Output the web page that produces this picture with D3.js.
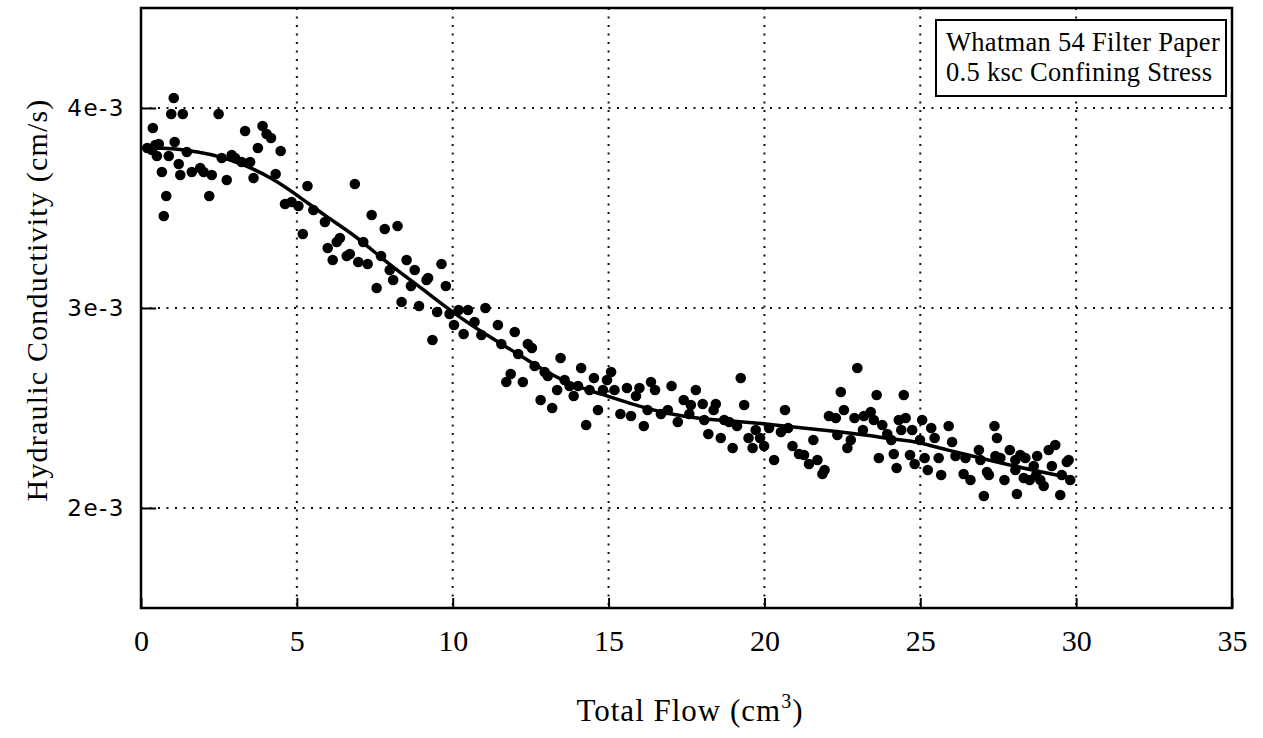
<!DOCTYPE html>
<html>
<head>
<meta charset="utf-8">
<script src="https://cdn.jsdelivr.net/npm/d3@7"></script>
<style>
  body { margin: 0; background: #fff; }
  svg { display: block; }
</style>
</head>
<body>
<div id="chart"></div>
<script>
// measured total flow (cm^3) and hydraulic conductivity (x 1e-3 cm/s)
const flow = [
  0.20, 1.05, 0.97, 1.34, 2.49, 0.38, 1.08, 3.34, 3.90, 4.03, 4.17, 3.75, 4.48, 0.46, 0.57, 0.35, 0.51, 0.89, 1.47, 1.21,
  0.67, 1.26, 1.63, 1.90, 2.01, 2.27, 2.59, 2.91, 3.02, 3.23, 3.50, 2.75, 3.61, 4.32, 0.81, 2.19, 0.73, 5.34, 4.62, 4.83,
  5.05, 5.53, 5.90, 5.19,
  6.86, 7.40, 7.82, 8.23, 6.38, 6.28, 5.99, 6.15, 6.60, 6.70, 6.97, 7.27, 7.13, 7.70, 7.98, 8.09, 7.56, 8.52, 8.78, 8.66,
  8.36, 8.92, 9.16, 9.21, 9.64, 9.78, 9.50, 9.90, 10.19, 10.49, 11.05, 10.04, 10.70, 10.35, 11.45, 11.99, 9.35, 10.92, 11.56, 12.10,
  12.41, 12.54, 12.63, 12.95, 13.05, 13.46, 11.86, 11.72, 12.25, 14.12, 13.59, 13.75, 14.02, 13.35, 12.82, 13.19, 13.88, 14.53, 14.39, 14.82,
  14.95, 15.08, 14.66, 14.28, 15.19, 15.59, 15.99, 15.88, 16.36, 16.49, 17.02, 17.80, 17.41, 17.64, 16.25, 15.38, 15.72, 16.13, 16.68, 16.90,
  17.22, 17.59,
  19.24, 18.44, 18.37, 18.02, 19.35, 18.07, 18.71, 18.87, 19.12, 18.20, 18.60, 18.98, 19.49, 19.62, 19.72, 19.86, 19.99, 20.15, 20.31, 20.53,
  20.76, 20.66, 20.90, 21.11, 21.27, 21.43, 21.70, 21.57, 21.86, 21.93, 22.07, 22.29, 22.55, 22.45, 22.34, 22.77, 22.66, 22.98, 22.89, 23.19,
  23.41, 23.16, 23.60, 23.51, 23.78, 23.94, 24.07, 24.31, 23.67, 24.15, 24.24,
  24.47, 24.53, 24.39, 24.74, 24.67, 24.82, 25.06, 25.35, 25.46, 25.91, 24.99, 25.14, 25.24, 25.67, 25.59, 26.02, 26.13, 26.45, 26.39, 26.61,
  26.88, 26.93, 27.20, 27.14, 27.04, 27.38, 27.46, 27.41, 27.57, 27.70, 27.87, 28.05, 28.05, 28.10, 28.21, 28.37, 28.32, 28.51, 28.64, 28.75,
  28.72, 28.85, 28.96, 29.12, 29.33, 29.22, 29.49, 29.54, 29.70, 29.76, 29.81
];
const conductivity = [
  3.80, 4.05, 3.97, 3.97, 3.97, 3.90, 3.83, 3.885, 3.91, 3.87, 3.85, 3.80, 3.785, 3.815, 3.82, 3.79, 3.76, 3.76, 3.78, 3.72,
  3.68, 3.665, 3.68, 3.70, 3.68, 3.665, 3.75, 3.765, 3.75, 3.73, 3.73, 3.64, 3.65, 3.67, 3.56, 3.56, 3.46, 3.61, 3.52, 3.53,
  3.51, 3.49, 3.43, 3.37,
  3.62, 3.465, 3.395, 3.41, 3.35, 3.33, 3.30, 3.24, 3.26, 3.27, 3.23, 3.22, 3.33, 3.26, 3.19, 3.14, 3.10, 3.24, 3.19, 3.11,
  3.03, 3.01, 3.14, 3.15, 3.22, 3.11, 2.98, 2.97, 2.99, 2.99, 3.00, 2.915, 2.93, 2.87, 2.915, 2.88, 2.84, 2.865, 2.82, 2.77,
  2.82, 2.80, 2.71, 2.68, 2.66, 2.75, 2.67, 2.63, 2.63, 2.70, 2.64, 2.61, 2.61, 2.59, 2.54, 2.50, 2.56, 2.65, 2.59, 2.59,
  2.64, 2.68, 2.49, 2.415, 2.59, 2.60, 2.60, 2.56, 2.63, 2.59, 2.61, 2.59, 2.54, 2.515, 2.49, 2.47, 2.46, 2.41, 2.47, 2.49,
  2.43, 2.47,
  2.65, 2.52, 2.49, 2.52, 2.515, 2.44, 2.44, 2.43, 2.41, 2.37, 2.35, 2.30, 2.35, 2.30, 2.39, 2.35, 2.31, 2.40, 2.24, 2.38,
  2.40, 2.49, 2.31, 2.27, 2.265, 2.22, 2.24, 2.34, 2.17, 2.19, 2.46, 2.45, 2.49, 2.58, 2.365, 2.34, 2.30, 2.70, 2.45, 2.46,
  2.48, 2.39, 2.565, 2.44, 2.415, 2.37, 2.34, 2.44, 2.25, 2.27, 2.20,
  2.565, 2.45, 2.39, 2.39, 2.265, 2.22, 2.44, 2.40, 2.35, 2.41, 2.34, 2.25, 2.19, 2.165, 2.25, 2.33, 2.26, 2.25, 2.17, 2.14,
  2.29, 2.24, 2.165, 2.18, 2.06, 2.41, 2.35, 2.26, 2.25, 2.14, 2.29, 2.19, 2.24, 2.07, 2.265, 2.25, 2.15, 2.14, 2.21, 2.26,
  2.165, 2.14, 2.11, 2.29, 2.315, 2.21, 2.065, 2.165, 2.23, 2.24, 2.14
];

// smoothed fit curve
const fitFlow = [0.2, 1.0, 1.85, 2.49, 3.34, 4.2, 5.05, 6.0, 6.86, 7.93, 9.0, 10.06, 11.13, 12.1, 12.63, 13.7, 14.76, 15.83,
  16.9, 17.96, 19.03, 20.1, 21.16, 22.23, 23.3, 24.26, 24.79, 25.86, 26.93, 27.99, 29.06, 29.86];
const fitK = [3.80, 3.80, 3.78, 3.76, 3.715, 3.65, 3.56, 3.45, 3.365, 3.22, 3.10, 2.97, 2.86, 2.77, 2.715, 2.62, 2.57, 2.515,
  2.47, 2.445, 2.435, 2.42, 2.40, 2.385, 2.365, 2.34, 2.335, 2.29, 2.25, 2.21, 2.175, 2.15];

const xTicks = [0, 5, 10, 15, 20, 25, 30, 35];
const yTicks = [2, 3, 4];
const legendLines = ["Whatman 54 Filter Paper", "0.5 ksc Confining Stress"];

const W = 1263, H = 738;
const margin = { top: 8, right: 31, bottom: 130, left: 141 };
const width = W - margin.left - margin.right,
    height = H - margin.top - margin.bottom;

const svg = d3.select("#chart").append("svg")
    .attr("width", W)
    .attr("height", H);

const g = svg.append("g")
    .attr("transform", `translate(${margin.left},${margin.top})`);

const x = d3.scaleLinear().domain([0, 35]).range([0, width]);
const y = d3.scaleLinear().domain([1.5, 4.5]).range([height, 0]);

// dotted grid
g.append("g")
    .selectAll("line")
    .data(xTicks.slice(1, -1))
    .join("line")
    .attr("x1", d => x(d)).attr("x2", d => x(d))
    .attr("y1", 0).attr("y2", height)
    .attr("stroke", "#111")
    .attr("stroke-width", 2)
    .attr("stroke-dasharray", "2,6.5");

g.append("g")
    .selectAll("line")
    .data(yTicks)
    .join("line")
    .attr("x1", 0).attr("x2", width)
    .attr("y1", d => y(d)).attr("y2", d => y(d))
    .attr("stroke", "#111")
    .attr("stroke-width", 2)
    .attr("stroke-dasharray", "2,6.5");

// axes
const xAxis = g.append("g")
    .attr("transform", `translate(0,${height})`)
    .call(d3.axisBottom(x).tickValues(xTicks).tickSize(-10).tickPadding(22).tickFormat(d3.format("d")));
xAxis.selectAll("text")
    .attr("font-family", "'Liberation Serif', serif")
    .attr("font-size", 30)
    .attr("fill", "#000");

const yAxis = g.append("g")
    .call(d3.axisLeft(y).tickValues(yTicks).tickSize(-15).tickPadding(16).tickFormat(d => `${d}e-3`));
yAxis.selectAll("text")
    .attr("font-family", "'DejaVu Sans', sans-serif")
    .attr("font-size", 23)
    .attr("letter-spacing", 1.5)
    .attr("fill", "#000");

[xAxis, yAxis].forEach(a => {
    a.select(".domain").remove();
    a.selectAll(".tick line").attr("stroke", "#000").attr("stroke-width", 2);
});

// frame
g.append("rect")
    .attr("x", 0).attr("y", 0)
    .attr("width", width).attr("height", height)
    .attr("fill", "none")
    .attr("stroke", "#000")
    .attr("stroke-width", 2.5);

// data points
g.append("g")
    .selectAll("circle")
    .data(flow.map((f, i) => [f, conductivity[i]]))
    .join("circle")
    .attr("cx", d => x(d[0]))
    .attr("cy", d => y(d[1]))
    .attr("r", 5.3)
    .attr("fill", "#000");

// fit line
const line = d3.line()
    .x(d => x(d[0]))
    .y(d => y(d[1]))
    .curve(d3.curveBasis);

g.append("path")
    .datum(fitFlow.map((f, i) => [f, fitK[i]]))
    .attr("d", line)
    .attr("fill", "none")
    .attr("stroke", "#000")
    .attr("stroke-width", 3.5);

// legend box
const legend = svg.append("g").attr("transform", "translate(936,20)");
legend.append("rect")
    .attr("width", 290).attr("height", 76)
    .attr("fill", "#fff")
    .attr("stroke", "#000")
    .attr("stroke-width", 2);
legend.selectAll("text")
    .data(legendLines)
    .join("text")
    .attr("x", 10)
    .attr("y", (d, i) => 31 + i * 30)
    .attr("font-family", "'Liberation Serif', serif")
    .attr("font-size", 26.5)
    .attr("letter-spacing", 0.3)
    .text(d => d);

// axis titles
const xTitle = svg.append("text")
    .attr("x", 690)
    .attr("y", 721)
    .attr("text-anchor", "middle")
    .attr("font-family", "'Liberation Serif', serif")
    .attr("font-size", 31)
    .attr("letter-spacing", 1);
xTitle.append("tspan").text("Total Flow (cm");
xTitle.append("tspan").attr("font-size", 20).attr("dy", -13).text("3");
xTitle.append("tspan").attr("dy", 13).text(")");

svg.append("text")
    .attr("transform", "translate(47,300) rotate(-90)")
    .attr("text-anchor", "middle")
    .attr("font-family", "'Liberation Serif', serif")
    .attr("font-size", 30)
    .attr("letter-spacing", 1.2)
    .text("Hydraulic Conductivity (cm/s)");
</script>
</body>
</html>
